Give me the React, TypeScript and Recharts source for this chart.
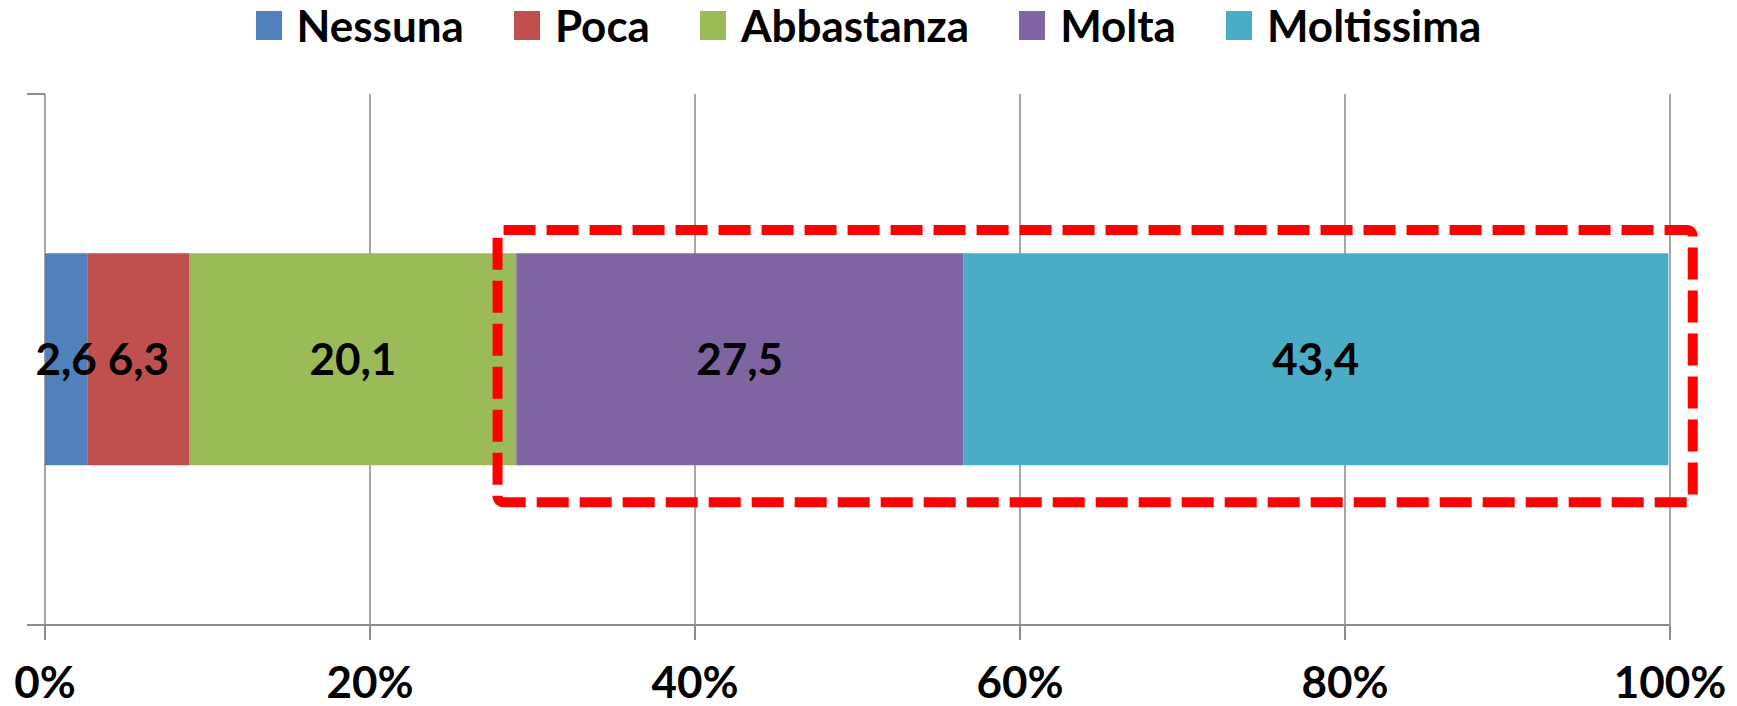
import { BarChart, Bar, XAxis, YAxis, CartesianGrid, LabelList, Legend, ReferenceArea } from "recharts";

const categories = [""];
const seriesNames = ["Nessuna", "Poca", "Abbastanza", "Molta", "Moltissima"];
const seriesValues = [2.6, 6.3, 20.1, 27.5, 43.4];
const seriesColors = ["#4F81BD", "#C0504D", "#9BBB59", "#8064A2", "#4BACC6"];
const xTicks = [0, 20, 40, 60, 80, 100];
// highlight box around Molta + Moltissima (in % units on the x axis)
const highlightFrom = 27.85;
const highlightTo = 101.4;

const FONT = "Lato, 'Noto Sans', sans-serif";
const AXIS_GRAY = "#8c8c8c";

const chartData = categories.map((c) => {
  const row: any = { name: c };
  seriesNames.forEach((s, i) => (row[s] = seriesValues[i]));
  return row;
});

const renderLegend = () => (
  <div style={{ height: 50, display: "flex", justifyContent: "center", alignItems: "center", gap: 50, fontFamily: FONT, fontWeight: 700, fontSize: 44, color: "#000" }}>
    {seriesNames.map((s, i) => (
      <div key={s} style={{ display: "flex", alignItems: "center", gap: 15 }}>
        <span style={{ width: 26, height: 29, background: seriesColors[i], display: "inline-block" }} />
        <span style={{ lineHeight: "50px" }}>{s}</span>
      </div>
    ))}
  </div>
);

// excel-style boundary ticks on the category axis
const AxisCorners = (p: any) => {
  const { x, y, height } = p;
  return (
    <g>
      <line x1={x - 18} x2={x} y1={y} y2={y} stroke={AXIS_GRAY} strokeWidth={2} />
      <line x1={x - 18} x2={x} y1={y + height} y2={y + height} stroke={AXIS_GRAY} strokeWidth={2} />
    </g>
  );
};

const HighlightBox = (p: any) => {
  const { x, y, width, height } = p;
  const top = y + height * 0.256;
  const bottom = y + height * 0.769;
  return <rect x={x} y={top} width={width} height={bottom - top} rx={6} fill="none" stroke="#FF0000" strokeWidth={10} strokeDasharray="32 11" />;
};

export default function App() {
  return (
    <div style={{ position: "absolute", left: 0, top: 0, background: "#fff" }}>
      <BarChart
        width={1737}
        height={706}
        data={chartData}
        layout="vertical"
        barCategoryGap="30%"
        margin={{ top: 44, right: 67, left: 45, bottom: 11 }}
      >
        <Legend verticalAlign="top" align="center" content={renderLegend} wrapperStyle={{ top: 0, left: 0, width: 1737 }} />
        <CartesianGrid horizontal={false} vertical stroke="#a6a6a6" strokeWidth={2} />
        <XAxis
          type="number"
          domain={[0, 100]}
          ticks={xTicks}
          tickFormatter={(v: number) => `${v}%`}
          height={70}
          tickSize={15}
          tickMargin={27}
          stroke={AXIS_GRAY}
          strokeWidth={2}
          tick={{ fill: "#000", fontFamily: FONT, fontWeight: 700, fontSize: 44 }}
          interval={0}
        />
        <YAxis type="category" dataKey="name" width={0} tick={false} tickLine={false} stroke={AXIS_GRAY} strokeWidth={2} />
        {seriesNames.map((s, i) => (
          <Bar key={s} dataKey={s} stackId="a" fill={seriesColors[i]} isAnimationActive={false}>
            <LabelList
              dataKey={s}
              position="center"
              formatter={(v: any) => String(v).replace(".", ",")}
              style={{ fill: "#000", fontFamily: FONT, fontWeight: 700, fontSize: 44 }}
            />
          </Bar>
        ))}
        <ReferenceArea x1={0} x2={100} ifOverflow="visible" shape={AxisCorners} />
        <ReferenceArea x1={highlightFrom} x2={highlightTo} ifOverflow="visible" shape={HighlightBox} {...({ zIndex: 2100 } as any)} />
      </BarChart>
    </div>
  );
}
